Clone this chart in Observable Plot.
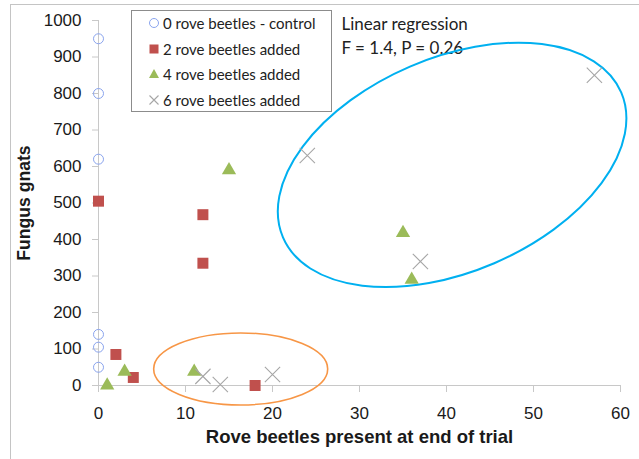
<!DOCTYPE html>
<html>
<head>
<meta charset="utf-8">
<script src="https://cdn.jsdelivr.net/npm/d3@7"></script>
<script src="https://cdn.jsdelivr.net/npm/@observablehq/plot@0.6"></script>
<style>
  html, body { margin: 0; padding: 0; background: #fff; }
  #wrap { position: relative; width: 639px; height: 459px; overflow: hidden; }
  #frame { position: absolute; left: 10px; top: 4px; width: 700px; height: 600px; border: 1px solid #c4c4c4; box-sizing: border-box; pointer-events: none; }
  #legend { position: absolute; left: 131px; top: 10px; width: 201px; height: 102px; border: 1px solid #8c8c8c; box-sizing: border-box; background: #fff; font-family: Lato, "Open Sans", sans-serif; font-size: 15px; color: #222; }
  .row { position: absolute; left: 0; height: 20px; }
  .row svg { position: absolute; left: 12px; top: 0; }
  .row span { position: absolute; left: 31px; white-space: nowrap; line-height: 20px; top: 0; }
</style>
</head>
<body>
<div id="wrap">
  <div id="chart"></div>
  <div id="frame"></div>
  <div id="legend"></div>
</div>
<script>
// Series values
const seriesNames = ["0 rove beetles - control", "2 rove beetles added", "4 rove beetles added", "6 rove beetles added"];
const controlX = [0, 0, 0, 0, 0, 0];
const controlY = [950, 800, 620, 140, 105, 50];
const twoX = [0, 12, 12, 2, 4, 18];
const twoY = [505, 468, 335, 85, 22, 0];
const fourX = [15, 1, 3, 11, 35, 36];
const fourY = [590, 0, 38, 38, 418, 290];
const sixX = [24, 57, 37, 12, 14, 20];
const sixY = [630, 850, 340, 25, 3, 30];
const xTicks = [0, 10, 20, 30, 40, 50, 60];
const yTicks = [0, 100, 200, 300, 400, 500, 600, 700, 800, 900, 1000];
const statsLines = ["Linear regression", "F = 1.4, P = 0.26"];

const toRows = (xs, ys) => xs.map((x, i) => ({x, y: ys[i]}));

// Annotation ellipses: center in data units, semi-axes in pixels, rotation in degrees
const ellipses = [
  {cx: 40.7, cy: 603, rx: 184, ry: 107, rot: -23.2, color: "#00b0f0", width: 2},
  {cx: 16.4, cy: 44, rx: 87, ry: 36, rot: 0, color: "#f79646", width: 1.6}
];

const colors = {control: "#8aa4ee", two: "#c0504d", four: "#9bbb59", six: "#a6a6a6"};

function ellipseMark(index, scales) {
  const g = d3.create("svg:g");
  for (const e of ellipses) {
    const px = scales.x(e.cx), py = scales.y(e.cy);
    g.append("ellipse")
      .attr("cx", 0).attr("cy", 0)
      .attr("rx", e.rx).attr("ry", e.ry)
      .attr("transform", `translate(${px},${py}) rotate(${e.rot})`)
      .attr("fill", "none")
      .attr("stroke", e.color)
      .attr("stroke-width", e.width);
  }
  return g.node();
}

const plot = Plot.plot({
  width: 639,
  height: 459,
  marginLeft: 98,
  marginRight: 19,
  marginTop: 20,
  marginBottom: 74,
  style: {fontFamily: "'Liberation Sans', Arial, sans-serif", fontSize: "17px", color: "#1a1a1a", background: "transparent"},
  x: {domain: [0, 60]},
  y: {domain: [0, 1000]},
  marks: [
    Plot.ruleY([0], {stroke: "#c8c8c8"}),
    Plot.ruleX([0], {stroke: "#c8c8c8"}),
    Plot.axisX({ticks: xTicks, tickSize: 7, tickPadding: 14, tickFormat: d3.format("d"), stroke: "#c8c8c8", fill: "#1a1a1a", label: null, fontSize: 17}),
    Plot.axisY({ticks: yTicks, tickSize: 6, tickPadding: 11, tickFormat: d3.format("d"), stroke: "#c8c8c8", fill: "#1a1a1a", label: null, fontSize: 17}),
    Plot.text(["Rove beetles present at end of trial"], {frameAnchor: "bottom", dy: 57, fontWeight: "bold", fontSize: 18.5, fill: "#1a1a1a"}),
    Plot.text(["Fungus gnats"], {frameAnchor: "left", dx: -74, textAnchor: "middle", rotate: -90, fontWeight: "bold", fontSize: 17.6, fill: "#1a1a1a"}),
    Plot.text([statsLines.join("\n")], {frameAnchor: "top-left", dx: 243, dy: -7, textAnchor: "start", lineAnchor: "top", lineHeight: 1.38, fontSize: 17, fontFamily: "Lato, 'Open Sans', sans-serif", fill: "#222"}),
    ellipseMark,
    Plot.dot(toRows(controlX, controlY), {x: "x", y: "y", symbol: "circle", r: 5, stroke: colors.control, strokeWidth: 1, fill: "none"}),
    Plot.dot(toRows(twoX, twoY), {x: "x", y: "y", symbol: "square", r: 6.2, fill: colors.two, stroke: "none"}),
    Plot.dot(toRows(fourX, fourY), {x: "x", y: "y", symbol: "triangle", r: 5.3, fill: colors.four, stroke: "none"}),
    Plot.dot(toRows(sixX, sixY), {x: "x", y: "y", symbol: "times", r: 7, stroke: colors.six, strokeWidth: 1.1, fill: "none"})
  ]
});
document.getElementById("chart").appendChild(plot);

// Legend (inside plot area, like the reference)
const legend = document.getElementById("legend");
const symbols = [
  `<circle cx="10" cy="10" r="4.5" fill="none" stroke="${colors.control}" stroke-width="1"/>`,
  `<rect x="5.5" y="5.5" width="9" height="9" fill="${colors.two}"/>`,
  `<path d="M10,5 L15,14 L5,14 Z" fill="${colors.four}"/>`,
  `<path d="M5.5,5.5 L14.5,14.5 M14.5,5.5 L5.5,14.5" stroke="${colors.six}" stroke-width="1.1"/>`
];
const rowTops = [2, 27.5, 53, 78.5];
seriesNames.forEach((name, i) => {
  const row = document.createElement("div");
  row.className = "row";
  row.style.top = rowTops[i] + "px";
  row.innerHTML = `<svg width="20" height="20">${symbols[i]}</svg><span>${name}</span>`;
  legend.appendChild(row);
});
</script>
</body>
</html>
